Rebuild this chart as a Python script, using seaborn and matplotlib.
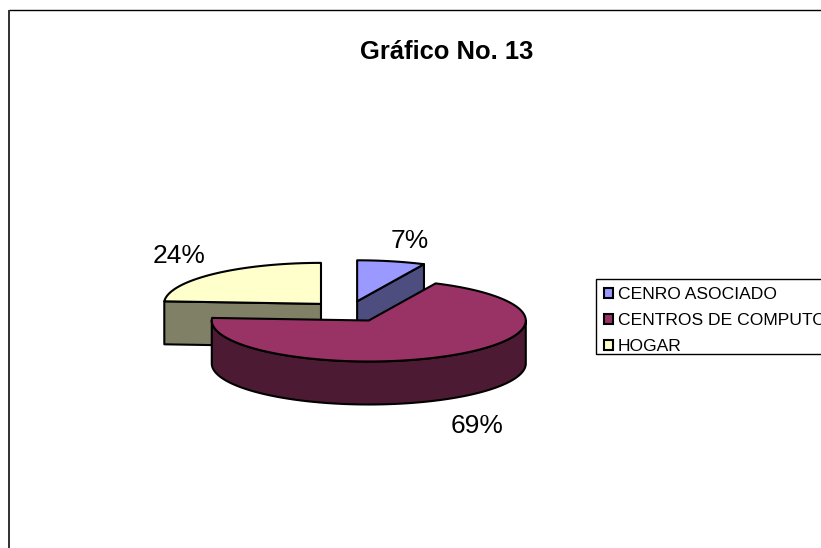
import numpy as np
import matplotlib
matplotlib.use("Agg")
import matplotlib.pyplot as plt
from matplotlib.patches import Polygon, Patch, Rectangle
import seaborn as sns

title = "Gráfico No. 13"
categories = ["CENRO ASOCIADO", "CENTROS DE COMPUTO", "HOGAR"]
shares = [7, 69, 24]
colors = ["#9999FF", "#993366", "#FFFFCC"]

sns.set_theme(style="white")
plt.rcParams["font.family"] = ["Liberation Sans", "DejaVu Sans"]
plt.rcParams["legend.labelcolor"] = "black"

# Pie layout, in canvas pixels
CX, CY = 348.4, 311.5
RX, RY = 157.0, 41.0
DEPTH = 43.0
EXPLODE = 0.255
EDGE = dict(edgecolor="black", linewidth=1.5, joinstyle="round")

fig = plt.figure(figsize=(8.21, 5.48), dpi=100)
ax = fig.add_axes([0, 0, 1, 1])
ax.set_xlim(0, 821)
ax.set_ylim(548, 0)
ax.axis("off")


def rim(cx, cy, start, stop, drop=0.0):
    """Points along the ellipse; angles run clockwise from twelve o'clock."""
    t = np.radians(np.linspace(start, stop, 200))
    return np.column_stack([cx + RX * np.sin(t), cy - RY * np.cos(t) + drop])


def shade(color):
    return tuple(c * 0.5 for c in matplotlib.colors.to_rgb(color))


fractions = np.array(shares) / sum(shares)
stops = np.cumsum(fractions) * 360
starts = np.r_[0, stops[:-1]]
mids = (starts + stops) / 2
centers = [
    (CX + EXPLODE * RX * np.sin(np.radians(m)), CY - EXPLODE * RY * np.cos(np.radians(m)))
    for m in mids
]

# Rear slices first so the large front slice overlaps them
for i in [2, 0, 1]:
    cx, cy = centers[i]
    start, stop = starts[i], stops[i]
    dark = shade(colors[i])

    # Outer wall, only where the rim faces the viewer
    lo, hi = max(start, 90), min(stop, 270)
    if hi > lo:
        wall = np.vstack([rim(cx, cy, lo, hi), rim(cx, cy, lo, hi, DEPTH)[::-1]])
        ax.add_patch(Polygon(wall, facecolor=dark, **EDGE))

    # A cut face shows when the slice itself lies behind it
    visible = []
    if np.sin(np.radians(stop)) > 1e-9:
        visible.append(stop)
    if np.sin(np.radians(start)) < -1e-9:
        visible.append(start)
    for angle in visible:
        tip = rim(cx, cy, angle, angle)[0]
        quad = [(cx, cy), tip, (tip[0], tip[1] + DEPTH), (cx, cy + DEPTH)]
        ax.add_patch(Polygon(quad, facecolor=dark, **EDGE))

    top = np.vstack([[(cx, cy)], rim(cx, cy, start, stop)])
    ax.add_patch(Polygon(top, facecolor=colors[i], **EDGE))

# Percentage labels
label_xy = [(410, 241), (477, 426), (179, 256)]
for share, (x, y) in zip(shares, label_xy):
    ax.text(x, y, f"{share}%", fontsize=19, color="black", ha="center", va="center")

ax.text(447, 52, title, fontsize=18.4, fontweight="bold", color="black", ha="center", va="center")

# Chart frame: only the top and left sides fall inside the canvas
ax.plot([9, 821], [9.5, 9.5], color="black", lw=1.0, solid_capstyle="butt")
ax.plot([9, 9], [9.5, 548], color="#303030", lw=1.4, solid_capstyle="butt")

# Legend box runs past the right edge of the canvas
ax.add_patch(Rectangle((596, 279), 240, 75, facecolor="white", edgecolor="black", linewidth=1.0))
handles = [Patch(facecolor=c, edgecolor="black", linewidth=1.5) for c in colors]
ax.legend(
    handles, categories,
    loc="upper left", bbox_to_anchor=(596, 279), bbox_transform=ax.transData,
    fontsize=12.6, frameon=False, borderpad=0.45, labelspacing=0.64,
    handlelength=0.5, handleheight=0.5, handletextpad=0.3, borderaxespad=0,
)

fig.savefig("out.png", dpi=100, facecolor="white")
